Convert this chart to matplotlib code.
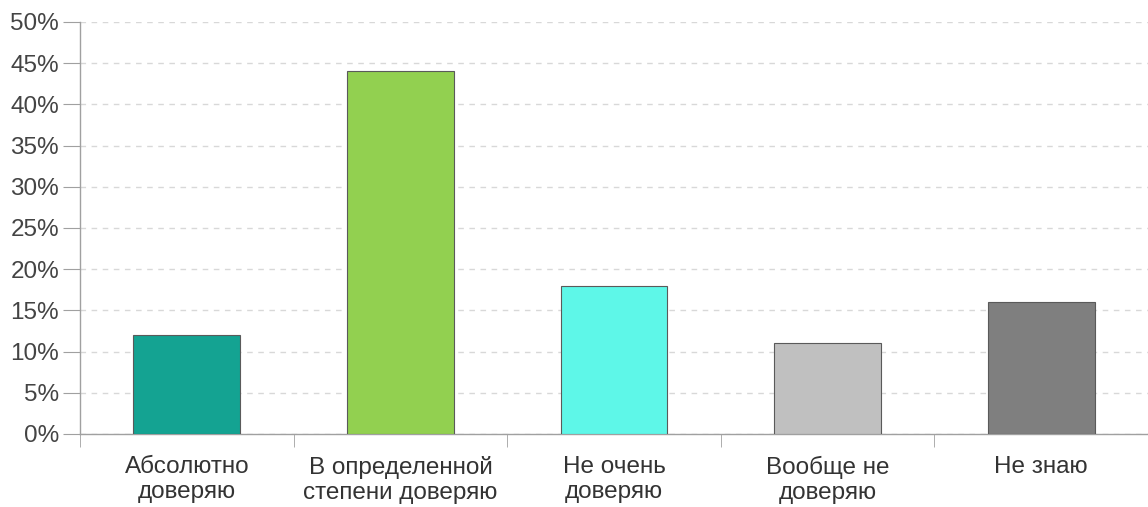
import numpy as np
import matplotlib
matplotlib.use('Agg')
import matplotlib.pyplot as plt
from matplotlib.ticker import FixedLocator, PercentFormatter

#===============================================================================
categories = ["Абсолютно\nдоверяю", "В определенной\nстепени доверяю",
              "Не очень\nдоверяю", "Вообще не\nдоверяю", "Не знаю"]
values     = [12, 44, 18, 11, 16]
colors     = ["#14a392", "#92d050", "#5ef7e8", "#c0c0c0", "#7f7f7f"]
y_ticks    = [0, 5, 10, 15, 20, 25, 30, 35, 40, 45, 50]
#===============================================================================
plt.rcParams['font.family'] = ['Liberation Sans', 'DejaVu Sans']

fig = plt.figure(figsize=(11.48, 5.07), dpi=100)
ax = fig.add_axes([80/1148, 1 - 434/507, 1 - 80/1148, (434 - 22)/507])

x = np.arange(len(categories))
ax.bar(x, values, width=0.5, color=colors, edgecolor="#5a5a5a", linewidth=0.8, zorder=3)

ax.set_xlim(-0.5, len(categories) - 0.5)
ax.set_ylim(0, 50)
ax.set_yticks(y_ticks)
ax.yaxis.set_major_formatter(PercentFormatter(decimals=0))
ax.set_xticks(x)
ax.set_xticklabels(categories, linespacing=1.18)
ax.xaxis.set_minor_locator(FixedLocator(np.arange(-0.5, len(categories), 1.0)))

ax.grid(axis='y', linestyle=(0, (4, 4)), color="#d8d8d8", linewidth=1, zorder=0)
for s in ['top', 'right']:
    ax.spines[s].set_visible(False)
for s in ['left', 'bottom']:
    ax.spines[s].set_color("#a0a0a0")
    ax.spines[s].set_linewidth(1)

ax.tick_params(axis='y', length=12, color="#a0a0a0", labelsize=17.5, labelcolor="#444444", pad=3)
ax.tick_params(axis='x', which='major', length=0, labelsize=17.5, labelcolor="#333333", pad=16)
ax.tick_params(axis='x', which='minor', length=9, color="#a0a0a0", direction='out')

plt.savefig('out.png', dpi=100)
